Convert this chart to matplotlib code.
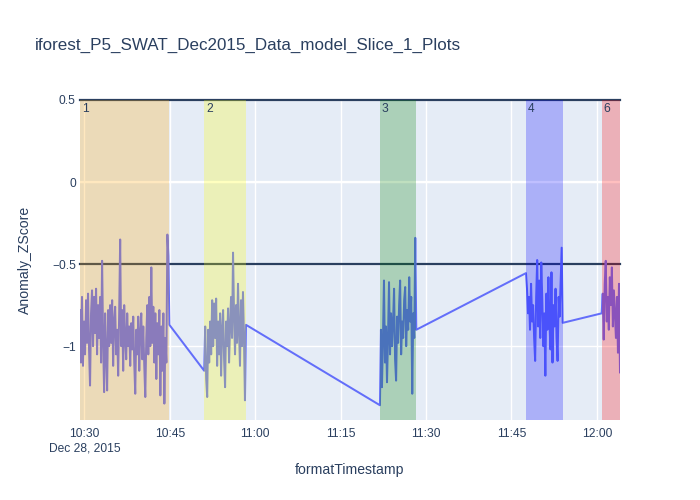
import pandas as pd
import matplotlib
matplotlib.use("Agg")
from matplotlib import pyplot as plt
import matplotlib.dates as mdates

plt.rcParams['font.family'] = ['Liberation Sans', 'DejaVu Sans']

# segment start / end times (one slice per shaded region)
seg_labels = ["1", "2", "3", "4", "6"]
seg_start = ["2015-12-28 10:29:13", "2015-12-28 10:51:02", "2015-12-28 11:21:54",
             "2015-12-28 11:47:33", "2015-12-28 12:00:51"]
seg_end = ["2015-12-28 10:44:55", "2015-12-28 10:58:22", "2015-12-28 11:28:17",
           "2015-12-28 11:54:00", "2015-12-28 12:04:04"]
seg_colors = ["orange", "yellow", "green", "blue", "red"]

# anomaly z-score readings per slice
seg1 = [-0.78, -1.10, -0.70, -1.12, -0.85, -1.05, -0.72, -0.98, -0.68, -1.02,
        -1.24, -0.80, -0.66, -1.00, -0.70, -0.92, -0.65, -1.05, -0.75, -0.95,
        -0.70, -1.10, -0.48, -0.95, -1.28, -0.80, -1.05, -1.27, -0.78, -1.00,
        -0.75, -0.98, -0.72, -1.12, -0.85, -0.76, -1.05, -0.90, -1.18, -0.80,
        -0.35, -1.00, -0.78, -1.15, -0.75, -0.95, -1.08, -0.80, -1.00, -0.88,
        -1.12, -0.86, -1.02, -0.82, -1.10, -1.29, -0.90, -1.05, -0.82, -1.15,
        -0.92, -0.80, -1.08, -0.88, -1.12, -1.31, -0.95, -0.75, -1.05, -0.70,
        -1.00, -0.52, -0.98, -0.76, -1.10, -0.80, -1.20, -0.86, -1.05, -0.78,
        -1.30, -0.88, -1.15, -0.80, -1.35, -0.95, -1.10, -0.32, -0.45, -0.87]
seg2 = [-1.15, -0.88, -1.20, -1.31, -0.90, -1.10, -0.85, -1.05, -0.72, -1.00,
        -0.74, -0.95, -0.71, -1.12, -0.85, -1.05, -0.80, -1.18, -0.90, -0.78,
        -1.08, -1.25, -0.85, -1.00, -0.77, -1.10, -0.88, -0.70, -0.95, -0.43,
        -0.80, -1.05, -0.75, -0.98, -0.62, -0.90, -1.12, -0.72, -1.00, -0.67,
        -0.95, -1.33, -0.87]
seg3 = [-1.36, -0.90, -1.25, -0.95, -0.60, -1.10, -0.88, -1.22, -0.95, -0.61,
        -1.05, -0.80, -1.00, -0.85, -0.65, -1.08, -1.21, -0.82, -0.98, -0.75,
        -0.60, -1.05, -0.85, -0.95, -0.72, -0.64, -1.00, -0.78, -0.90, -0.58,
        -0.85, -0.70, -1.29, -0.80, -0.95, -0.34, -0.90]
seg4 = [-0.555, -0.65, -0.80, -0.70, -0.90, -0.62, -0.85, -0.75, -0.95, -1.09,
        -0.70, -0.475, -0.88, -0.60, -0.95, -0.49, -0.72, -1.00, -0.80, -1.18,
        -0.68, -0.90, -0.58, -0.85, -1.02, -0.55, -1.10, -0.75, -0.88, -0.65,
        -0.95, -1.09, -0.70, -0.82, -0.60, -0.40, -0.858]
seg6 = [-0.80, -0.68, -0.96, -0.62, -0.48, -0.85, -0.70, -0.90, -0.58, -0.75,
        -0.52, -0.88, -0.66, -0.80, -0.95, -0.70, -1.04, -0.62, -1.16]
seg_values = [seg1, seg2, seg3, seg4, seg6]

thresholds = [-0.5, 0.5]
y_ticks = [-1, -0.5, 0, 0.5]

TXT = '#2a3f5f'


def main():
    times = []
    values = []
    for s, e, v in zip(seg_start, seg_end, seg_values):
        times.extend(pd.date_range(s, e, periods=len(v)))
        values.extend(v)
    df = pd.DataFrame({'formatTimestamp': times, 'Anomaly_ZScore': values})

    fig = plt.figure(figsize=(7, 5), dpi=100)
    ax = fig.add_axes([80 / 700, 80 / 500, 540 / 700, 320 / 500])
    ax.set_facecolor('#e5ecf6')
    for sp in ax.spines.values():
        sp.set_visible(False)

    ax.plot(df['formatTimestamp'], df['Anomaly_ZScore'], color='#636efa',
            lw=1.44, zorder=2.5)

    for t in thresholds:
        ax.axhline(t, color=TXT, lw=1.6, zorder=2.2, clip_on=False)

    for lab, s, e, c in zip(seg_labels, seg_start, seg_end, seg_colors):
        x0 = pd.Timestamp(s)
        x1 = pd.Timestamp(e)
        ax.axvspan(x0, x1, color=c, alpha=0.25, lw=0, zorder=3)
        ax.annotate(lab, xy=(x0, 1), xycoords=('data', 'axes fraction'),
                    xytext=(2, -3), textcoords='offset pixels',
                    ha='left', va='top', fontsize=8.64, color=TXT, zorder=4)

    ax.set_xlim(pd.Timestamp(seg_start[0]), pd.Timestamp(seg_end[-1]))
    ax.set_ylim(-1.45, 0.5)

    ax.xaxis.set_major_locator(mdates.MinuteLocator(byminute=[0, 15, 30, 45]))

    def fmt(x, pos):
        d = mdates.num2date(x)
        s = d.strftime('%H:%M')
        if pos == 0:
            s += '\nDec 28, 2015'
        return s
    ax.xaxis.set_major_formatter(plt.FuncFormatter(fmt))
    ax.set_yticks(y_ticks)
    ax.set_yticklabels(['\u22121', '\u22120.5', '0', '0.5'])

    ax.tick_params(axis='both', length=0, labelsize=8.64, labelcolor=TXT)
    ax.tick_params(axis='x', pad=6)
    ax.tick_params(axis='y', pad=3)
    ax.grid(True, color='white', lw=1, zorder=0)
    ax.set_axisbelow(True)
    ax.axhline(0, color='white', lw=1.6, zorder=1)

    fig.text(35 / 700, 1 - 45 / 500, 'iforest_P5_SWAT_Dec2015_Data_model_Slice_1_Plots',
             fontsize=12.24, color=TXT, ha='left', va='center')
    fig.text(25 / 700, 1 - 260 / 500, 'Anomaly_ZScore', rotation=90,
             fontsize=10.08, color=TXT, ha='center', va='center')
    fig.text(350 / 700, 1 - 470 / 500, 'formatTimestamp',
             fontsize=10.08, color=TXT, ha='center', va='center')

    fig.savefig('out.png', dpi=100)


if __name__ == '__main__':
    main()
